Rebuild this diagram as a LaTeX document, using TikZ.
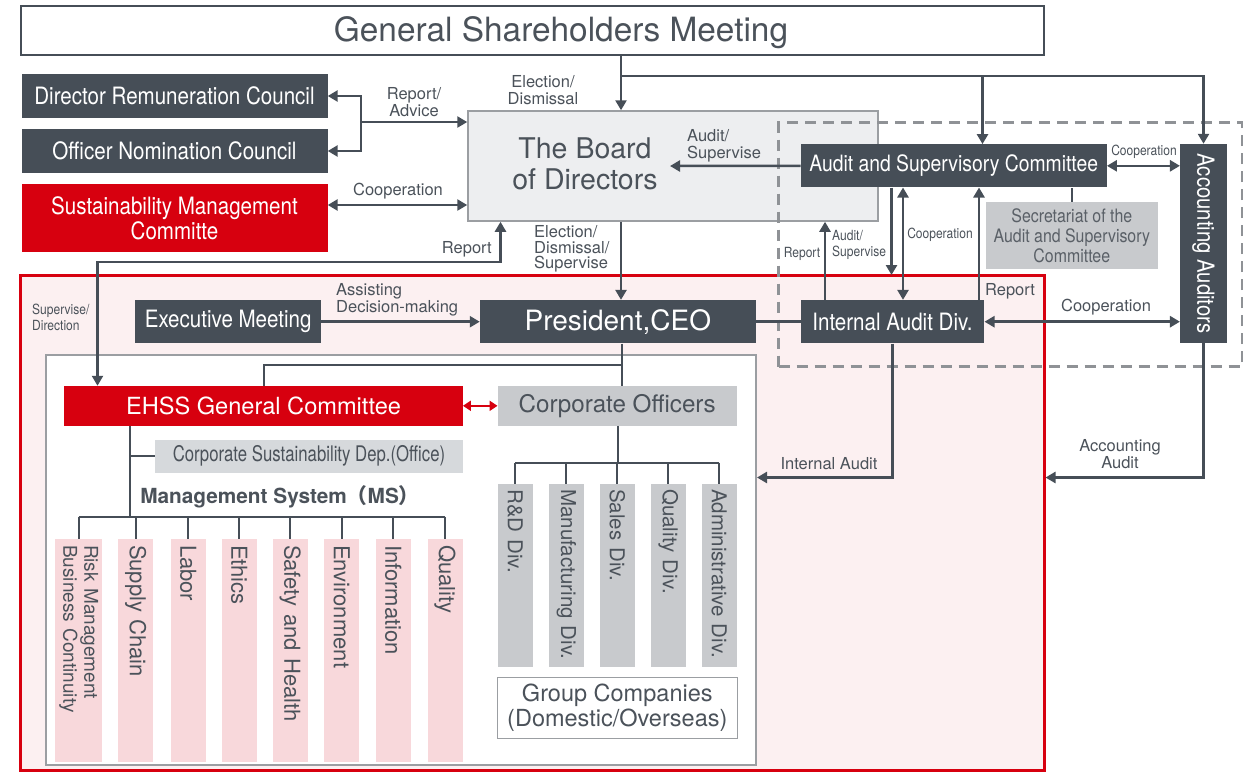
\documentclass[tikz,border=0pt]{standalone}
\usepackage{fontspec}
\setmainfont{TeX Gyre Heros}
\newfontfamily\cnd{TeX Gyre Heros}[FakeStretch=0.86]
\newfontfamily\cndd{TeX Gyre Heros}[FakeStretch=0.78]
\newfontfamily\cjk{Noto Sans CJK JP}
\usetikzlibrary{arrows.meta}
\definecolor{darkc}{RGB}{70,78,87}
\definecolor{txtc}{RGB}{75,82,90}
\definecolor{redc}{RGB}{215,0,15}
\definecolor{pinkc}{RGB}{252,240,241}
\definecolor{msc}{RGB}{248,216,219}
\definecolor{lgc}{RGB}{200,202,205}
\definecolor{lgc2}{RGB}{214,217,220}
\definecolor{bodc}{RGB}{237,238,240}
\definecolor{bordc}{RGB}{155,158,162}
\definecolor{dashc}{RGB}{143,146,150}
\definecolor{sectxt}{RGB}{90,96,103}
\tikzset{
 dbox/.style={fill=darkc, text=white, inner sep=0pt, font=\cnd\fontsize{23.9}{25}\selectfont, align=center},
 gbox/.style={fill=lgc, text=txtc, inner sep=0pt, align=center},
 lbl/.style={text=txtc, inner sep=0pt, font=\fontsize{16.5}{17}\selectfont, align=center},
 slbl/.style={text=txtc, inner sep=0pt, font=\cnd\fontsize{14}{16}\selectfont, align=center},
 arr/.style={draw=darkc, line width=2.5pt, -{Triangle[length=10pt,width=11pt]}},
 darr/.style={draw=darkc, line width=2.5pt, {Triangle[length=10pt,width=11pt]}-{Triangle[length=10pt,width=11pt]}},
 rdarr/.style={draw=redc, line width=2.5pt, {Triangle[length=8pt,width=10pt]}-{Triangle[length=8pt,width=10pt]}},
 tree/.style={draw=darkc, line width=2pt},
 msbox/.style={rotate=-90, fill=msc, text=txtc, inner xsep=6pt, inner ysep=0pt, text width=210.5pt, align=left, minimum height=35pt, font=\fontsize{22}{25}\selectfont},
 dvbox/.style={rotate=-90, fill=lgc, text=txtc, inner xsep=5pt, inner ysep=0pt, text width=173pt, align=left, minimum height=35pt, font=\fontsize{20.5}{23}\selectfont},
}
\begin{document}
\begin{tikzpicture}[x=1pt,y=-1pt]
\useasboundingbox (0,0) rectangle (1255,772);
% frames
\node[draw=redc, fill=pinkc, line width=3pt, minimum width=1024pt, minimum height=495pt, inner sep=0pt] (redbox) at (532,522.5) {};
\node[draw=bordc, fill=white, line width=2pt, minimum width=710.5pt, minimum height=410pt, inner sep=0pt] (inner) at (400.75,560) {};
% top
\node[draw=darkc, fill=white, line width=1.5pt, minimum width=1023pt, minimum height=49pt, inner sep=0pt] (gsm) at (532.5,30.5) {};
\node[text=txtc, inner sep=0pt, font=\fontsize{33.4}{35}\selectfont] (gsmt) at (561,33) {General Shareholders Meeting};
\node[dbox, minimum width=306pt, minimum height=43.5pt] (drc) at (174.5,96) {Director Remuneration Council};
\node[dbox, minimum width=306pt, minimum height=43.5pt] (onc) at (174.5,151) {Officer Nomination Council};
\node[dbox, fill=redc, minimum width=306pt, minimum height=67.5pt] (smc) at (174.5,218) {Sustainability Management\\Committe};
\node[draw=bordc, fill=bodc, line width=1.5pt, minimum width=410pt, minimum height=110pt, inner sep=0pt] (bod) at (673,166) {};
\node[text=txtc, inner sep=0pt, align=center, font=\fontsize{28.5}{31}\selectfont] (bodt) at (585,164) {The Board\\of Directors};
% audit zone
\node[draw=dashc, line width=2.5pt, dash pattern=on 11pt off 7pt, minimum width=463.5pt, minimum height=244pt, inner sep=0pt] (zone) at (1010.25,244.5) {};
\node[dbox, minimum width=306pt, minimum height=43pt, font=\cnd\fontsize{22.5}{24}\selectfont] (asc) at (953.7,165.8) {Audit and Supervisory Committee};
\node[dbox, rotate=-90, minimum width=199.3pt, minimum height=46.7pt, font=\cnd\fontsize{23.6}{25}\selectfont] (aa) at (1203.5,243.6) {Accounting Auditors};
\node[gbox, text=sectxt, minimum width=171.7pt, minimum height=67.6pt, font=\cnd\fontsize{18.5}{20}\selectfont] (sec) at (1071.8,235.5) {Secretariat of the\\Audit and Supervisory\\Committee};
\node[dbox, minimum width=183.6pt, minimum height=43.3pt] (iad) at (892.5,321.7) {Internal Audit Div.};
% company
\node[dbox, minimum width=185.7pt, minimum height=43.3pt] (exm) at (228.2,321.7) {Executive Meeting};
\node[dbox, minimum width=275.7pt, minimum height=43.3pt, font=\fontsize{28}{30}\selectfont] (ceo) at (617.8,321.7) {President,CEO};
\node[dbox, fill=redc, minimum width=398.4pt, minimum height=39.7pt, font=\fontsize{23.6}{25}\selectfont] (ehss) at (263.5,405.8) {EHSS General Committee};
\node[gbox, minimum width=239pt, minimum height=39.7pt, font=\fontsize{24.2}{25}\selectfont] (cof) at (617.2,405.8) {Corporate Officers};
\node[gbox, fill=lgc2, minimum width=307.4pt, minimum height=32.7pt, font=\cndd\fontsize{21.5}{23}\selectfont] (csd) at (309,456.3) {Corporate Sustainability Dep.(Office)};
\node[text=txtc, inner sep=0pt, font=\bfseries\fontsize{20.8}{22}\selectfont] (msl) at (280,497) {Management System{\cjk （}MS{\cjk ）}};
% MS boxes
\node[msbox, minimum height=47.3pt, font=\fontsize{19}{21}\selectfont] (ms1) at (78.7,650.3) {Risk Management\\Business Continuity};
\node[msbox] (ms2) at (135.8,650.3) {Supply Chain};
\node[msbox] (ms3) at (188.2,650.3) {Labor};
\node[msbox] (ms4) at (239.2,650.3) {Ethics};
\node[msbox] (ms5) at (290.2,650.3) {Safety and Health};
\node[msbox] (ms6) at (341.8,650.3) {Environment};
\node[msbox] (ms7) at (393.2,650.3) {Information};
\node[msbox] (ms8) at (445,650.3) {Quality};
% divisions
\node[dvbox] (dv1) at (515.2,575.7) {R\&D Div.};
\node[dvbox] (dv2) at (566.3,575.7) {Manufacturing Div.};
\node[dvbox] (dv3) at (617.3,575.7) {Sales Div.};
\node[dvbox] (dv4) at (668.3,575.7) {Quality Div.};
\node[dvbox] (dv5) at (719.3,575.7) {Administrative Div.};
\node[draw=bordc, fill=white, line width=1.5pt, text=txtc, minimum width=240pt, minimum height=61pt, inner sep=0pt, align=center, font=\fontsize{23.5}{25}\selectfont] (gc) at (617.3,707.8) {Group Companies\\(Domestic/Overseas)};
% labels
\node[lbl] (l1) at (414,102) {Report/\\Advice};
\node[lbl] (l2) at (398,191) {Cooperation};
\node[lbl] (l3) at (543,90) {Election/\\Dismissal};
\node[lbl, anchor=west, align=left] (l4) at (687,146) {Audit/\\Supervise};
\node[lbl, anchor=east] (l5) at (492,249) {Report};
\node[lbl, anchor=west, align=left, font=\fontsize{16.5}{15.5}\selectfont] (l6) at (534,249) {Election/\\Dismissal/\\Supervise};
\node[lbl, anchor=west, align=left] (l7) at (336,300) {Assisting\\Decision-making};
\node[slbl, anchor=west, align=left] (l8) at (32,317) {Supervise/\\Direction};
\node[slbl] (l9) at (802,254) {Report};
\node[slbl, anchor=west, align=left] (l10) at (832,245) {Audit/\\Supervise};
\node[slbl] (l11) at (940,235) {Cooperation};
\node[slbl] (l12) at (1144,152) {Cooperation};
\node[lbl] (l13) at (1010,291) {Report};
\node[lbl] (l14) at (1106,307) {Cooperation};
\node[lbl] (l15) at (829,464) {Internal Audit};
\node[lbl] (l16) at (1120,454) {Accounting\\Audit};
% coordinates
\coordinate (yH) at (0,76);
\coordinate (xE) at (621,0);
\coordinate (xA) at (982.5,0);
\coordinate (jR) at (361,122);
\coordinate (yC) at (0,205);
\coordinate (tAS) at (670,166);
\coordinate (x1) at (825,0);
\coordinate (x2) at (891.5,275);
\coordinate (x3) at (903,0);
\coordinate (x4) at (979,0);
\coordinate (yI) at (0,477.5);
\coordinate (x97) at (97.5,262);
\coordinate (x500) at (500.5,262);
\coordinate (xT) at (621.5,365);
\coordinate (xM) at (129.5,516.5);
\coordinate (yD) at (617.5,462.5);
% connectors
\draw[arr] (gsm.south -| xE) -- (bod.north -| xE);
\draw[arr] (xE |- yH) -| (aa.west);
\draw[arr] (xA |- yH) -- (asc.north -| xA);
\draw[arr] (jR) -- (bod.west |- jR);
\draw[arr] (jR) |- (drc.east);
\draw[arr] (jR) |- (onc.east);
\draw[darr] (smc.east |- yC) -- (bod.west |- yC);
\draw[arr] (asc.west) -- (tAS);
\draw[darr] (asc.east) -- (aa.south |- asc.east);
\draw[tree] (sec.north) -- (sec.north |- asc.south);
\draw[arr] (iad.north -| x1) -- (bod.south -| x1);
\draw[arr] (asc.south -| x2) -- (x2);
\draw[darr] (asc.south -| x3) -- (iad.north -| x3);
\draw[arr] (iad.north -| x4) -- (asc.south -| x4);
\draw[darr] (iad.east) -- (aa.south |- iad.east);
\draw[draw=darkc, line width=2.5pt] (ceo.east) -- (iad.west);
\draw[arr] (iad.south) |- (inner.east |- yI);
\draw[arr] (aa.east) |- (redbox.east |- yI);
\draw[arr] (bod.south -| xE) -- (ceo.north -| xE);
\draw[darr] (ehss.north -| x97) -- (x97) -- (x500) -- (bod.south -| x500);
\draw[arr] (exm.east) -- (ceo.west);
\draw[tree] (ceo.south -| xT) -- (cof.north -| xT);
\draw[tree] (xT) -| (ehss.north);
\draw[rdarr] (ehss.east) -- (cof.west);
\draw[tree] (ehss.south -| xM) -- (xM);
\draw[tree] (csd.west -| xM) -- (csd.west);
\draw[tree] (ms1.center |- xM) -- (ms8.center |- xM);
\foreach \i in {1,...,8} {\draw[tree] (ms\i.center |- xM) -- (ms\i.west);}
\draw[tree] (cof.south -| yD) -- (yD);
\draw[tree] (dv1.center |- yD) -- (dv5.center |- yD);
\foreach \i in {1,...,5} {\draw[tree] (dv\i.center |- yD) -- (dv\i.west);}
\end{tikzpicture}
\end{document}
